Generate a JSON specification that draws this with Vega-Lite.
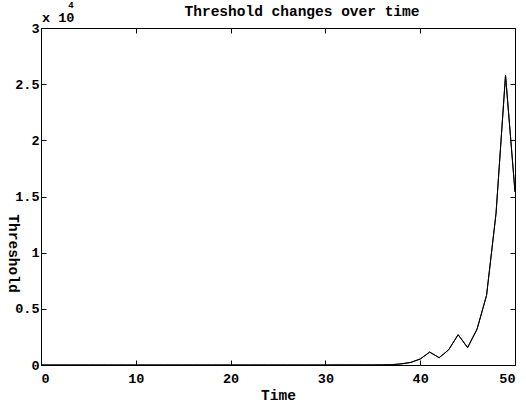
{
  "$schema": "https://vega.github.io/schema/vega-lite/v6.json",
  "width": 474,
  "height": 337,
  "autosize": "none",
  "padding": {"left": 41, "top": 28, "right": 11, "bottom": 38},
  "background": "white",
  "title": {
    "text": "Threshold changes over time",
    "font": "Liberation Mono",
    "fontSize": 14.5,
    "fontWeight": "bold",
    "color": "black",
    "anchor": "middle",
    "dx": 24,
    "offset": -18
  },
  "config": {
    "view": {"stroke": "black", "strokeWidth": 1},
    "axis": {
      "grid": false,
      "domainColor": "black",
      "tickColor": "black",
      "labelColor": "black",
      "titleColor": "black",
      "labelFont": "Liberation Mono",
      "labelFontWeight": "bold",
      "labelFontSize": 13.5,
      "titleFont": "Liberation Mono",
      "titleFontWeight": "bold",
      "titleFontSize": 14.5
    }
  },
  "data": {
    "values": [
      {"time": 0, "threshold": 0},
      {"time": 1, "threshold": 0},
      {"time": 2, "threshold": 0},
      {"time": 3, "threshold": 0},
      {"time": 4, "threshold": 0},
      {"time": 5, "threshold": 0},
      {"time": 6, "threshold": 0},
      {"time": 7, "threshold": 0},
      {"time": 8, "threshold": 0},
      {"time": 9, "threshold": 0},
      {"time": 10, "threshold": 0},
      {"time": 11, "threshold": 0},
      {"time": 12, "threshold": 0},
      {"time": 13, "threshold": 0},
      {"time": 14, "threshold": 0},
      {"time": 15, "threshold": 0},
      {"time": 16, "threshold": 0},
      {"time": 17, "threshold": 0},
      {"time": 18, "threshold": 0},
      {"time": 19, "threshold": 0},
      {"time": 20, "threshold": 0},
      {"time": 21, "threshold": 0},
      {"time": 22, "threshold": 0},
      {"time": 23, "threshold": 0},
      {"time": 24, "threshold": 0},
      {"time": 25, "threshold": 0},
      {"time": 26, "threshold": 0},
      {"time": 27, "threshold": 0},
      {"time": 28, "threshold": 0},
      {"time": 29, "threshold": 0},
      {"time": 30, "threshold": 0},
      {"time": 31, "threshold": 5},
      {"time": 32, "threshold": 5},
      {"time": 33, "threshold": 5},
      {"time": 34, "threshold": 5},
      {"time": 35, "threshold": 5},
      {"time": 36, "threshold": 10},
      {"time": 37, "threshold": 30},
      {"time": 38, "threshold": 100},
      {"time": 39, "threshold": 230},
      {"time": 40, "threshold": 530},
      {"time": 41, "threshold": 1150},
      {"time": 42, "threshold": 650},
      {"time": 43, "threshold": 1350},
      {"time": 44, "threshold": 2700},
      {"time": 45, "threshold": 1550},
      {"time": 46, "threshold": 3200},
      {"time": 47, "threshold": 6200},
      {"time": 48, "threshold": 13500},
      {"time": 49, "threshold": 25800},
      {"time": 50, "threshold": 15400}
    ]
  },
  "layer": [
    {
      "mark": {"type": "line", "color": "black", "strokeWidth": 1},
      "encoding": {
        "x": {
          "field": "time",
          "type": "quantitative",
          "scale": {"domain": [0, 50], "nice": false, "zero": false},
          "axis": {
            "orient": "bottom",
            "tickCount": 5,
            "title": "Time",
            "tickSize": -5,
            "labelPadding": 11,
            "titlePadding": 4
          }
        },
        "y": {
          "field": "threshold",
          "type": "quantitative",
          "scale": {"domain": [0, 30000], "nice": false},
          "axis": {
            "orient": "left",
            "tickCount": 6,
            "labelExpr": "'' + (datum.value / 10000)",
            "tickSize": -5,
            "labelPadding": 7,
            "title": "Threshold",
            "titleAngle": 90,
            "titleAlign": "center",
            "titleBaseline": "middle",
            "titleX": -29,
            "titleY": 225
          }
        }
      }
    },
    {
      "mark": {"type": "line", "color": "black", "strokeWidth": 1},
      "encoding": {
        "x": {
          "field": "time",
          "type": "quantitative",
          "axis": {
            "orient": "top",
            "tickCount": 5,
            "tickSize": -5,
            "labels": false,
            "title": null
          }
        },
        "y": {
          "field": "threshold",
          "type": "quantitative",
          "axis": {
            "orient": "right",
            "tickCount": 6,
            "tickSize": -5,
            "labels": false,
            "title": null
          }
        }
      }
    },
    {
      "data": {"values": [{"label": "x 10"}]},
      "mark": {
        "type": "text",
        "font": "Liberation Mono",
        "fontWeight": "bold",
        "fontSize": 13.5,
        "align": "left",
        "baseline": "alphabetic",
        "dx": 1,
        "dy": -6,
        "color": "black"
      },
      "encoding": {
        "x": {"datum": 0, "type": "quantitative", "axis": null},
        "y": {"datum": 30000, "type": "quantitative", "axis": null},
        "text": {"field": "label"}
      }
    },
    {
      "data": {"values": [{"label": "4"}]},
      "mark": {
        "type": "text",
        "font": "Liberation Mono",
        "fontWeight": "bold",
        "fontSize": 9,
        "align": "center",
        "baseline": "alphabetic",
        "dx": 30,
        "dy": -20,
        "color": "black"
      },
      "encoding": {
        "x": {"datum": 0, "type": "quantitative", "axis": null},
        "y": {"datum": 30000, "type": "quantitative", "axis": null},
        "text": {"field": "label"}
      }
    }
  ],
  "resolve": {"axis": {"x": "independent", "y": "independent"}}
}
